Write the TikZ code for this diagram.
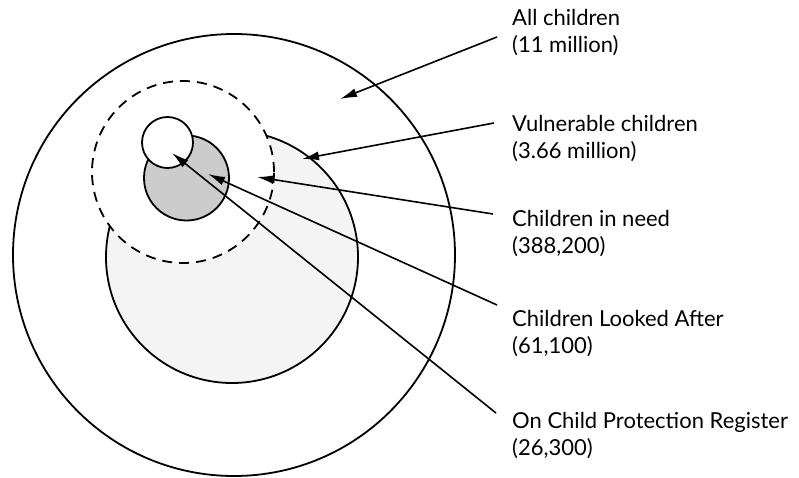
\documentclass[tikz,border=0pt]{standalone}
\usepackage{fontspec}
\setmainfont{Lato}
\usetikzlibrary{arrows.meta}
\begin{document}
\begin{tikzpicture}[x=1pt,y=-1pt,
  ring/.style={circle, draw=black, line width=1.8pt, inner sep=0pt, outer sep=0pt},
  dashring/.style={circle, draw=black, line width=1.8pt, dash pattern=on 10pt off 7pt, inner sep=0pt, outer sep=0pt},
  arr/.style={draw=black, line width=1.6pt, -{Latex[length=17pt,width=9pt]}},
  lbl/.style={anchor=base west, align=left, inner sep=0pt, font=\fontsize{22}{27}\selectfont}]
\useasboundingbox (0,0) rectangle (799,478);
% circles
\node[ring, fill=white, minimum size=442pt] (all) at (234,255) {};
\node[ring, fill=gray!9, minimum size=252pt] (vul) at (232,257) {};
\node[dashring, fill=white, minimum size=182pt] (need) at (183,172) {};
\node[ring, fill=gray!40, minimum size=85pt] (la) at (186.5,178) {};
\node[ring, fill=white, minimum size=51pt] (cpr) at (167.5,142.5) {};
% labels (anchored at the baseline of their second line)
\node[lbl] (l1) at (512,53) {All children\\(11 million)};
\node[lbl] (l2) at (512,159) {Vulnerable children\\(3.66 million)};
\node[lbl] (l3) at (512,253) {Children in need\\(388,200)};
\node[lbl] (l4) at (512,353) {Children Looked After\\(61,100)};
\node[lbl] (l5) at (512,455) {On Child Protection Register\\(26,300)};
% connector ends
\coordinate (s1) at (497,37);
\coordinate (s2) at (494,123);
\coordinate (s3) at (493,214);
\coordinate (s4) at (497,305);
\coordinate (s5) at (496,413);
\coordinate (t1) at (340,99);
\coordinate (t2) at (302,159);
\coordinate (t3) at (257,177);
\coordinate (t4) at (208,174);
\coordinate (t5) at (172,153);
\draw[arr] (s1) -- (t1);
\draw[arr] (s2) -- (t2);
\draw[arr] (s3) -- (t3);
\draw[arr] (s4) -- (t4);
\draw[arr] (s5) -- (t5);
\end{tikzpicture}
\end{document}
